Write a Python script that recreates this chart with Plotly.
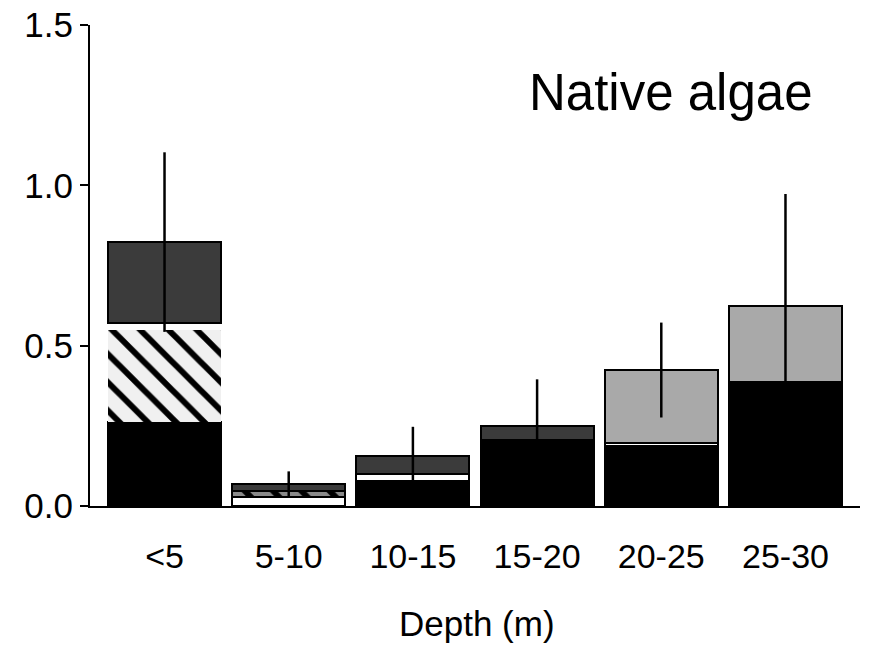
import plotly.graph_objects as go

categories = ["<5", "5-10", "10-15", "15-20", "20-25", "25-30"]
black_seg = [0.263, 0.0, 0.079, 0.206, 0.187, 0.388]
striped_seg = [0.286, 0.0, 0.0, 0.0, 0.0, 0.0]
white_seg = [0.022, 0.028, 0.021, 0.0, 0.010, 0.0]
hatched_seg = [0.0, 0.019, 0.0, 0.0, 0.0, 0.0]
darkgray_seg = [0.252, 0.021, 0.057, 0.044, 0.0, 0.0]
lightgray_seg = [0.0, 0.0, 0.0, 0.0, 0.227, 0.236]
errors = [0.28, 0.04, 0.09, 0.145, 0.148, 0.349]

totals = [sum(v) for v in zip(black_seg, striped_seg, white_seg, hatched_seg, darkgray_seg, lightgray_seg)]

FONT = "Liberation Sans, Arial, sans-serif"
BW = 0.91

fig = go.Figure()
fig.add_bar(x=categories, y=black_seg, width=BW, marker=dict(color="black", line=dict(color="black", width=2)))
fig.add_bar(x=categories, y=striped_seg, width=BW,
            marker=dict(color="#f0f0f0", line=dict(color="black", width=0),
                        pattern=dict(shape="\\", fgcolor="black", bgcolor="#f0f0f0", size=20, solidity=0.3,
                                     fillmode="replace")))
fig.add_bar(x=categories, y=white_seg, width=BW,
            marker=dict(color="white", line=dict(color="black", width=[0, 2, 2, 2, 2, 2])))
fig.add_bar(x=categories, y=hatched_seg, width=BW,
            marker=dict(color="#8a8a8a", line=dict(color="black", width=2),
                        pattern=dict(shape="\\", fgcolor="black", bgcolor="#8a8a8a", size=20, solidity=0.3,
                                     fillmode="replace")))
fig.add_bar(x=categories, y=darkgray_seg, width=BW, marker=dict(color="#3b3b3b", line=dict(color="black", width=2)))
fig.add_bar(x=categories, y=lightgray_seg, width=BW, marker=dict(color="#a9a9a9", line=dict(color="black", width=2)))

fig.add_scatter(x=categories, y=totals, mode="markers", marker=dict(size=1, opacity=0),
                error_y=dict(type="data", array=errors, symmetric=True, color="black", thickness=2.5, width=0))

fig.update_layout(
    barmode="stack",
    width=879, height=646,
    margin=dict(l=90, r=19, t=25, b=140),
    plot_bgcolor="white", paper_bgcolor="white",
    showlegend=False,
    font=dict(family=FONT, color="black"),
    xaxis=dict(range=[-0.6, 5.6], showline=True, linecolor="black", linewidth=2, ticks="",
               showgrid=False, zeroline=False, tickfont=dict(size=34, family=FONT),
               ticklabelstandoff=19, fixedrange=True, automargin=False),
    yaxis=dict(range=[0, 1.5], tickvals=[0, 0.5, 1.0, 1.5], ticktext=["0.0", "0.5", "1.0", "1.5"],
               showline=True, linecolor="black", linewidth=2, ticks="outside", ticklen=8, tickwidth=2,
               tickcolor="black", showgrid=False, zeroline=False, tickfont=dict(size=35, family=FONT),
               automargin=False),
    annotations=[
        dict(text="Native algae", xref="paper", yref="paper", x=0.754, y=0.860, xanchor="center",
             yanchor="middle", showarrow=False, font=dict(size=51, family=FONT, color="black")),
        dict(text="Depth (m)", xref="paper", yref="paper", x=0.502, y=0, xanchor="center",
             yanchor="middle", yshift=-117, showarrow=False, font=dict(size=35, family=FONT, color="black")),
    ],
)

fig.write_html("out.html")
